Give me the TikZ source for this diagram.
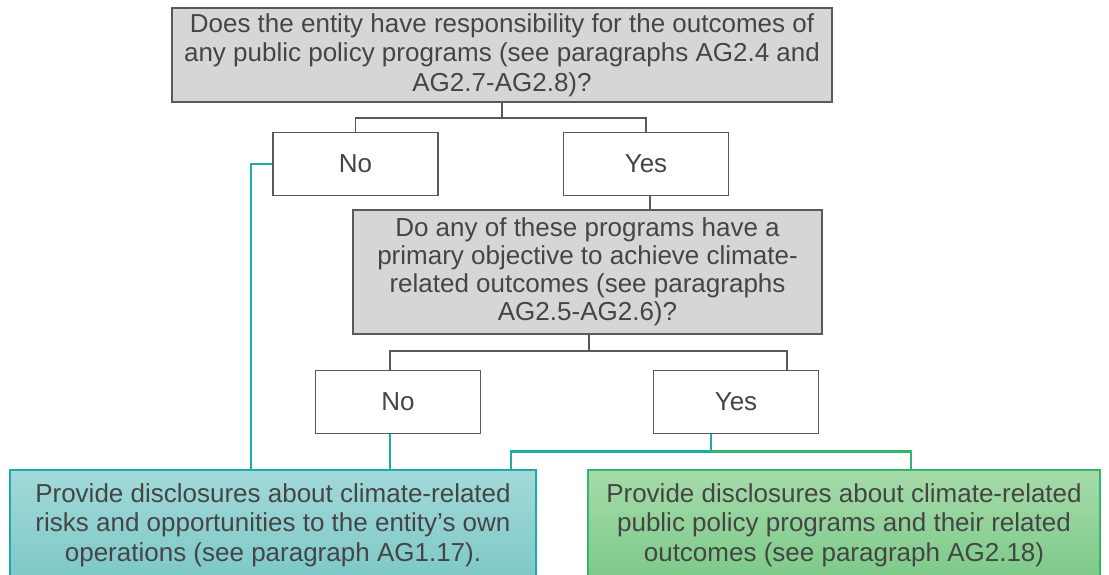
\documentclass[tikz,border=0pt]{standalone}
\usepackage{fontspec}
\setmainfont{Liberation Sans}
\usetikzlibrary{positioning}
\definecolor{linegray}{HTML}{595959}
\definecolor{boxgray}{HTML}{D6D6D6}
\definecolor{textgray}{HTML}{454545}
\definecolor{tealline}{HTML}{1AABAB}
\definecolor{tealtop}{HTML}{A3D9D9}
\definecolor{tealbot}{HTML}{7DC8C8}
\definecolor{greenline}{HTML}{33B56B}
\definecolor{greentop}{HTML}{A6DBAA}
\definecolor{greenbot}{HTML}{7CCA88}
\tikzstyle{question}=[draw=linegray,fill=boxgray,line width=1.6pt,align=center,inner sep=0pt,text=textgray]
\tikzstyle{answer}=[draw=linegray,fill=white,line width=1.6pt,inner sep=0pt,minimum width=165pt,minimum height=63pt,text=textgray]
\tikzstyle{outcome}=[line width=1.6pt,align=center,inner sep=0pt,minimum height=110pt,text=textgray]
\tikzstyle{link}=[draw=linegray,line width=1.6pt]
\tikzstyle{tlink}=[draw=tealline,line width=2.6pt]
\tikzstyle{glink}=[draw=greenline,line width=2.6pt]

\begin{document}
\begin{tikzpicture}[x=1pt,y=-1pt,font=\fontsize{26}{29.5}\selectfont]
            \useasboundingbox (0,0) rectangle (1109,574);
            \clip (0,0) rectangle (1109,574);
            \node (q1) [question,minimum width=660pt,minimum height=94pt] at (502,55)
                {Does the entity have responsibility for the outcomes of\\ any public policy programs (see paragraphs AG2.4 and\\ AG2.7-AG2.8)?};
            \node (no1) [answer] at (355.5,164) {No};
            \node (yes1) [answer] at (646,164) {Yes};
            \node (q2) [question,minimum width=469pt,minimum height=124pt,font=\fontsize{26}{28}\selectfont] at (587.5,272)
                {Do any of these programs have a\\ primary objective to achieve climate-\\ related outcomes (see paragraphs\\ AG2.5-AG2.6)?};
            \node (no2) [answer] at (398,402) {No};
            \node (yes2) [answer] at (736,402) {Yes};
            \node (teal) [outcome,draw=tealline,top color=tealtop,bottom color=tealbot,minimum width=526pt] at (273,525)
                {Provide disclosures about climate-related\\ risks and opportunities to the entity’s own\\ operations (see paragraph AG1.17).};
            \node (green) [outcome,draw=greenline,top color=greentop,bottom color=greenbot,minimum width=512pt] at (844,525)
                {Provide disclosures about climate-related\\ public policy programs and their related\\ outcomes (see paragraph AG2.18)};

            % first question
            \draw[link] (q1.south) -- ++(0,15) coordinate (j1) -| (no1.north);
            \draw[link] (j1) -| (yes1.north);
            \draw[link] ([xshift=4pt]yes1.south) -- ([xshift=4pt]yes1.south |- q2.north);
            % second question
            \draw[link] ([xshift=1.5pt]q2.south) -- ++(0,16) coordinate (j2) -| ([xshift=-8pt]no2.north);
            \draw[link] (j2) -| ([xshift=51pt]yes2.north);
            % outcomes
            \draw[tlink] (no1.west) -| ([xshift=-22pt]teal.north);
            \draw[tlink] ([xshift=-8pt]no2.south) -- ([xshift=-8pt]no2.south |- teal.north);
            \draw[tlink] ([xshift=-25pt]yes2.south) -- ++(0,17) coordinate (j3) -| ([xshift=238pt]teal.north);
            \draw[glink] (j3) -| ([xshift=67pt]green.north);
        \end{tikzpicture}
\end{document}
